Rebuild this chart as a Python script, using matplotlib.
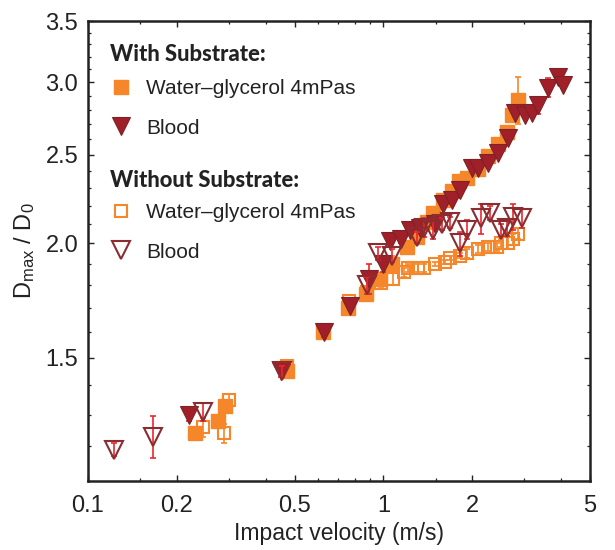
import matplotlib
matplotlib.use('Agg')
import matplotlib.pyplot as plt
from matplotlib.ticker import FixedLocator, FixedFormatter, NullFormatter

plt.rcParams['font.family'] = ['Liberation Sans', 'DejaVu Sans']
plt.rcParams['mathtext.fontset'] = 'custom'
plt.rcParams['mathtext.rm'] = 'Liberation Sans'
plt.rcParams['mathtext.it'] = 'Liberation Sans:italic'

# with substrate: water-glycerol 4mPas (filled squares)
x_ws = [0.23, 0.275, 0.29, 0.47, 0.625, 0.76, 0.87, 0.97, 1.07, 1.2, 1.3, 1.4, 1.47, 1.59, 1.71, 1.8, 1.92, 2.09, 2.26, 2.44, 2.62, 2.73, 2.86]
y_ws = [1.24, 1.28, 1.33, 1.45, 1.60, 1.70, 1.76, 1.83, 1.90, 1.98, 2.03, 2.11, 2.16, 2.23, 2.28, 2.34, 2.36, 2.41, 2.49, 2.57, 2.65, 2.76, 2.87]
e_ws = [0.01, 0.01, 0.01, 0.01, 0.01, 0.01, 0.01, 0.01, 0.04, 0.02, 0.02, 0.02, 0.02, 0.02, 0.02, 0.02, 0.02, 0.02, 0.02, 0.02, 0.02, 0.03, 0.17]

# with substrate: blood (filled triangles)
x_bs = [0.22, 0.45, 0.63, 0.77, 0.89, 1.0, 1.05, 1.15, 1.23, 1.33, 1.49, 1.59, 1.71, 1.81, 1.99, 2.09, 2.26, 2.44, 2.64, 2.79, 3.01, 3.18, 3.33, 3.6, 3.9, 4.05]
y_bs = [1.30, 1.45, 1.60, 1.71, 1.83, 1.90, 2.01, 2.02, 2.07, 2.08, 2.10, 2.21, 2.23, 2.29, 2.42, 2.42, 2.45, 2.51, 2.61, 2.78, 2.76, 2.78, 2.83, 2.96, 3.04, 2.98]
e_bs = [0.02, 0.02, 0.02, 0.02, 0.07, 0.04, 0.03, 0.02, 0.02, 0.02, 0.02, 0.02, 0.02, 0.02, 0.02, 0.02, 0.02, 0.03, 0.02, 0.02, 0.02, 0.02, 0.06, 0.07, 0.04, 0.02]

# without substrate: water-glycerol 4mPas (open squares)
x_wn = [0.245, 0.288, 0.30, 0.47, 0.765, 0.88, 0.98, 1.075, 1.17, 1.21, 1.31, 1.37, 1.49, 1.61, 1.68, 1.81, 1.91, 2.09, 2.26, 2.42, 2.5, 2.64, 2.75, 2.86]
y_wn = [1.26, 1.24, 1.35, 1.47, 1.73, 1.77, 1.81, 1.83, 1.86, 1.88, 1.88, 1.88, 1.90, 1.91, 1.93, 1.94, 1.95, 1.97, 1.98, 1.98, 2.00, 2.00, 2.02, 2.05]
e_wn = [0.03, 0.03, 0.02, 0.01, 0.01, 0.02, 0.02, 0.03, 0.02, 0.02, 0.02, 0.02, 0.01, 0.01, 0.01, 0.01, 0.02, 0.02, 0.02, 0.02, 0.02, 0.03, 0.03, 0.03]

# without substrate: blood (open triangles)
x_bn = [0.122, 0.166, 0.245, 0.455, 0.88, 0.96, 1.07, 1.30, 1.37, 1.47, 1.58, 1.68, 1.81, 1.91, 2.13, 2.30, 2.49, 2.62, 2.75, 2.95]
y_bn = [1.19, 1.23, 1.31, 1.45, 1.80, 1.95, 1.94, 2.03, 2.08, 2.07, 2.10, 2.11, 2.00, 2.07, 2.13, 2.16, 2.07, 2.08, 2.14, 2.13]
e_bn = [0.02, 0.065, 0.03, 0.02, 0.04, 0.03, 0.03, 0.03, 0.05, 0.05, 0.03, 0.03, 0.06, 0.05, 0.08, 0.04, 0.03, 0.04, 0.07, 0.05]

x_ticks = [0.1, 0.2, 0.5, 1, 2, 5]
x_labels = ['0.1', '0.2', '0.5', '1', '2', '5']
x_minor = [0.15, 0.3, 0.4, 0.6, 0.7, 0.8, 0.9, 1.5, 3, 4]
y_ticks = [1.5, 2.0, 2.5, 3.0, 3.5]
y_labels = ['1.5', '2.0', '2.5', '3.0', '3.5']
y_minor = [1.2, 1.3, 1.4, 1.6, 1.7, 1.8, 1.9, 2.1, 2.2, 2.3, 2.4, 2.6, 2.7, 2.8, 2.9, 3.1, 3.2, 3.3, 3.4]

orange = '#f5872a'
darkred = '#a11f29'
edgered = '#7d2226'
openred = '#8a2c30'
errred = '#e8272f'
ink = '#222222'

fig = plt.figure(figsize=(6.15, 5.5), dpi=100)
ax = fig.add_axes([88/615, 69/550, 502/615, 460/550])
ax.set_xscale('log')
ax.set_yscale('log')

ax.errorbar(x_ws, y_ws, yerr=e_ws, fmt='none', ecolor=orange, elinewidth=1.2, capsize=2.5, capthick=1.2, zorder=2)
h1, = ax.plot(x_ws, y_ws, 's', ms=9.5, color=orange, mec=orange, zorder=2)
ax.errorbar(x_wn, y_wn, yerr=e_wn, fmt='none', ecolor=orange, elinewidth=1.2, capsize=2.5, capthick=1.2, zorder=3)
h3, = ax.plot(x_wn, y_wn, 's', ms=9, mfc='none', mec=orange, mew=1.5, zorder=3)
ax.errorbar(x_bs, y_bs, yerr=e_bs, fmt='none', ecolor=errred, elinewidth=1.2, capsize=2.5, capthick=1.2, zorder=4)
h2, = ax.plot(x_bs, y_bs, 'v', ms=12.5, color=darkred, mec=edgered, mew=0.8, zorder=4)
ax.errorbar(x_bn, y_bn, yerr=e_bn, fmt='none', ecolor=errred, elinewidth=1.2, capsize=2.5, capthick=1.2, zorder=5)
h4, = ax.plot(x_bn, y_bn, 'v', ms=12.5, mfc='none', mec=openred, mew=1.5, zorder=5)

ax.set_xlim(0.1, 5)
ax.set_ylim(1.1, 3.5)
ax.xaxis.set_major_locator(FixedLocator(x_ticks))
ax.xaxis.set_major_formatter(FixedFormatter(x_labels))
ax.xaxis.set_minor_locator(FixedLocator(x_minor))
ax.xaxis.set_minor_formatter(NullFormatter())
ax.yaxis.set_major_locator(FixedLocator(y_ticks))
ax.yaxis.set_major_formatter(FixedFormatter(y_labels))
ax.yaxis.set_minor_locator(FixedLocator(y_minor))
ax.yaxis.set_minor_formatter(NullFormatter())

ax.tick_params(which='both', direction='in', top=True, right=True, color=ink, labelsize=17, labelcolor=ink)
ax.tick_params(which='major', length=4.5, width=1.0)
ax.tick_params(axis='x', which='major', pad=10)
ax.tick_params(axis='y', which='major', pad=7)
ax.tick_params(which='minor', length=2.5, width=0.9)
for s in ax.spines.values():
    s.set_linewidth(1.8)
    s.set_color(ink)

ax.set_xlabel('Impact velocity (m/s)', fontsize=16.5, color=ink, labelpad=4)
ax.set_ylabel(r'D$_{\rm max}$ / D$_0$', fontsize=17, color=ink, labelpad=6)

# legend: bold headers as plain text, entries as two legends
head_font = dict(family=['Lato', 'DejaVu Sans'], weight='black', size=15.8)
ax.text(0.044, 0.927, 'With Substrate:', transform=ax.transAxes, ha='left', va='center', color=ink, **head_font)
ax.text(0.044, 0.654, 'Without Substrate:', transform=ax.transAxes, ha='left', va='center', color=ink, **head_font)

leg_opts = dict(loc='center left', frameon=False, fontsize=15, handlelength=1.0,
                handletextpad=0.7, labelspacing=0.97, borderpad=0, borderaxespad=0)
leg1 = ax.legend([h1, h2], ['Water\u2013glycerol 4mPas', 'Blood'], bbox_to_anchor=(0.045, 0.81), **leg_opts)
ax.add_artist(leg1)
leg2 = ax.legend([h3, h4], ['Water\u2013glycerol 4mPas', 'Blood'], bbox_to_anchor=(0.045, 0.54), **leg_opts)
for leg in (leg1, leg2):
    for t in leg.get_texts():
        t.set_color(ink)

fig.savefig('out.png', dpi=100)
